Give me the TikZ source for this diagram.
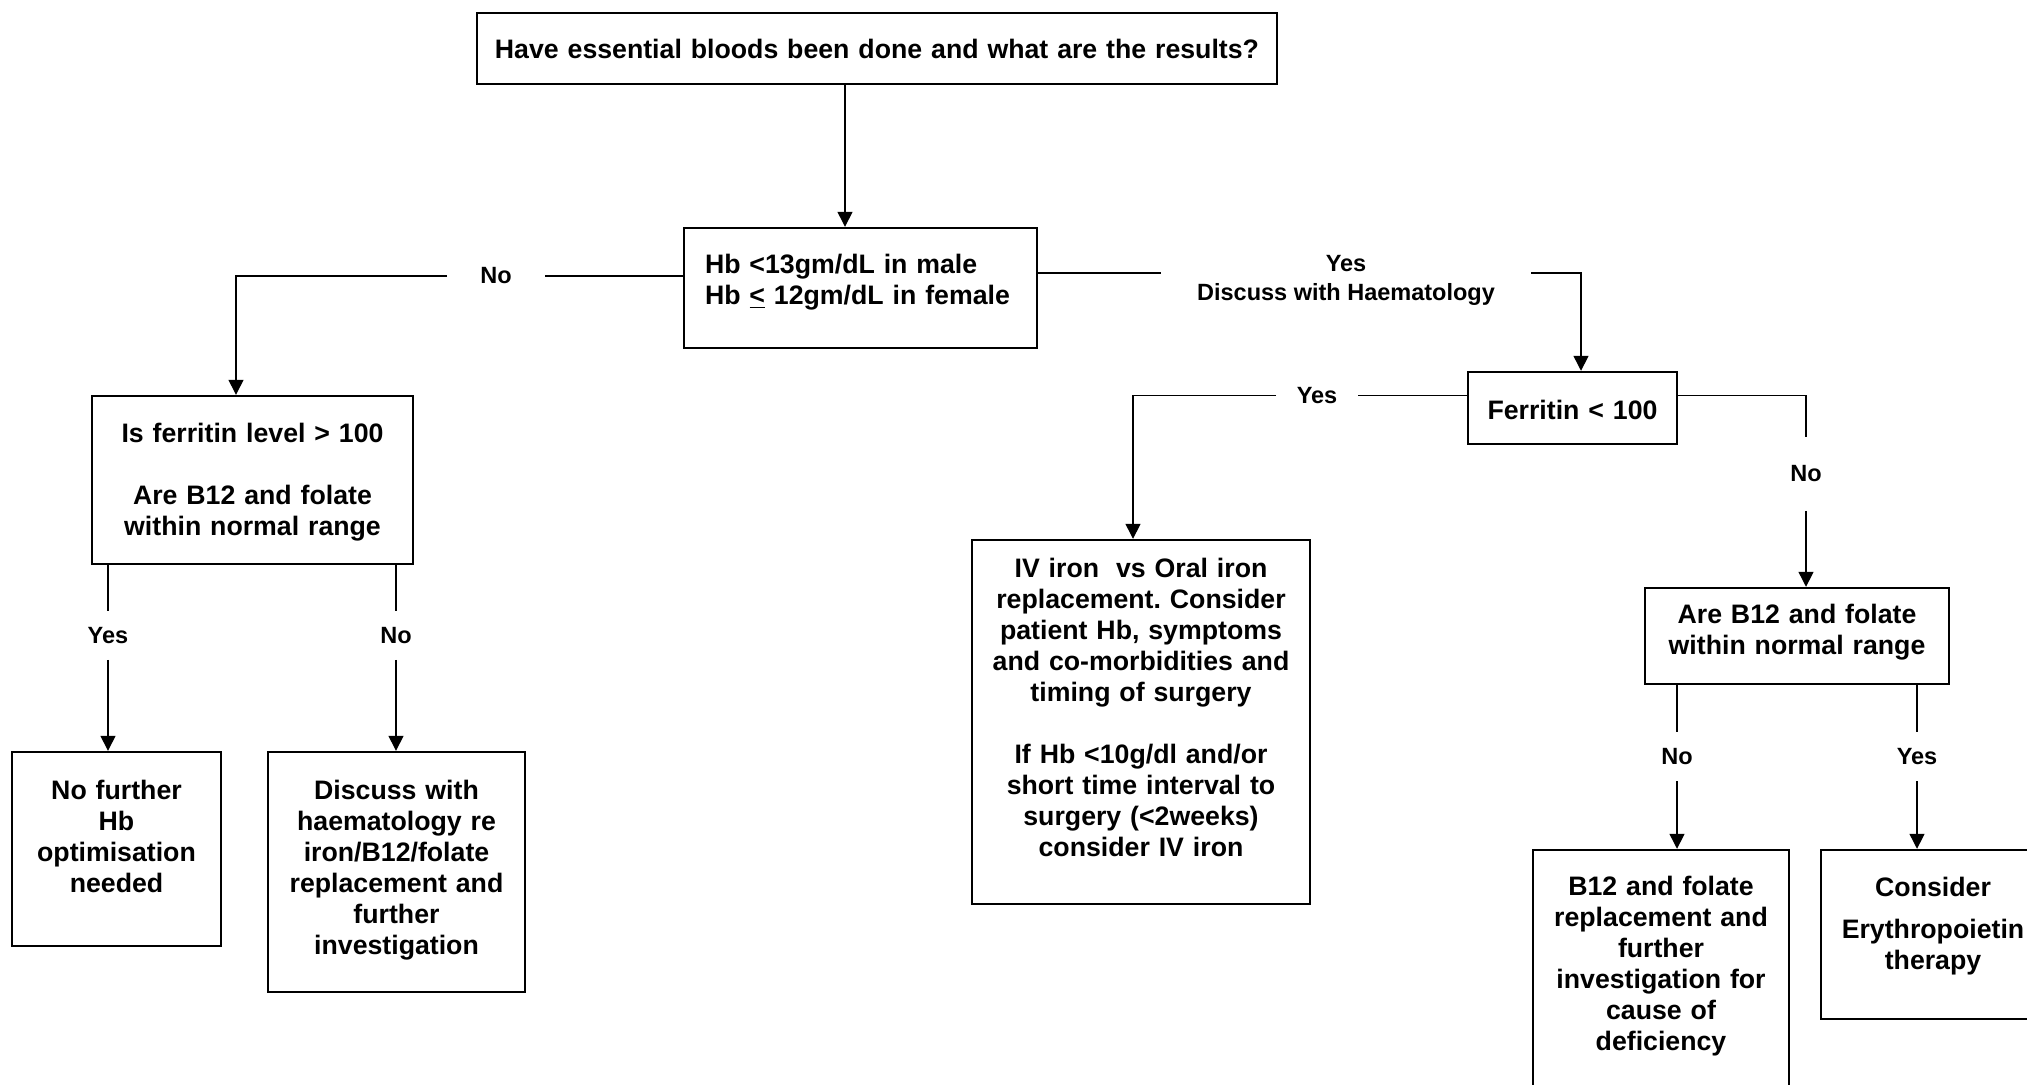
\documentclass[tikz,border=0pt]{standalone}
\usepackage{fontspec}
\setmainfont{Liberation Sans}
\usetikzlibrary{arrows.meta}
\newcommand{\boxfont}{\fontsize{13.35pt}{15.5pt}\selectfont\bfseries\frenchspacing}
\newcommand{\labfont}{\fontsize{11.75pt}{14.5pt}\selectfont\bfseries}
\tikzset{every node/.append style={transform shape=false}}
\tikzset{
  flowbox/.style n args={3}{draw, line width=1.2pt, inner sep=0pt, align=center, font=\boxfont,
    minimum width=#1, text width=#1-8pt, text height=#2, text depth=#3},
  yesno/.style={font=\labfont, inner sep=0pt, align=center},
  wire/.style={line width=.7pt},
  link/.style={wire, -{Triangle[length=7.5pt,width=7.5pt]}}
}

\begin{document}
\begin{tikzpicture}[x=0.5pt,y=-0.5pt]
  \useasboundingbox (0,0) rectangle (2027,1085);
  \clip (0,0) rectangle (2027,1085);
  \node[flowbox={400pt}{23pt}{12.5pt}] (bloods) at (877,48.5) {Have essential bloods been done and what are the results?};
  \node[flowbox={176.5pt}{23pt}{37pt}, text width=155.5pt, align=left] (hb) at (860.5,288) {Hb <13gm/dL in male\\Hb \underline{<} 12gm/dL in female};
  \node[flowbox={160.5pt}{23pt}{61pt}] (ferrq) at (252.5,480) {Is ferritin level > 100\\[15.5pt]Are B12 and folate\\within normal range};
  \node[flowbox={104.5pt}{23.5pt}{73.5pt}] (nofurther) at (116.5,849) {No further\\Hb\\optimisation\\needed};
  \node[flowbox={128.5pt}{23.5pt}{96.5pt}] (discussH) at (396.5,872) {Discuss with\\haematology re\\iron/B12/folate\\replacement and\\further\\investigation};
  \node[flowbox={104.5pt}{23.5pt}{12.5pt}] (ferr) at (1572.5,408) {Ferritin < 100};
  \node[flowbox={169pt}{18.5pt}{163.5pt}] (iv) at (1141,722) {IV iron\hspace{0.3em} vs Oral iron\\replacement. Consider\\patient Hb, symptoms\\and co-morbidities and\\timing of surgery\\[15.5pt]If Hb <10g/dl and/or\\short time interval to\\surgery (<2weeks)\\consider IV iron};
  \node[flowbox={152pt}{17.5pt}{30.5pt}] (b12q) at (1797,636) {Are B12 and folate\\within normal range};
  \node[flowbox={128pt}{22.5pt}{102.5pt}] (b12r) at (1661,975) {B12 and folate\\replacement and\\further\\investigation for\\cause of\\deficiency};
  \node[flowbox={112pt}{23pt}{61.5pt}] (consider) at (1933,934.5) {Consider\\[5.5pt]Erythropoietin\\therapy};

  \node[yesno, minimum width=48.5pt] (noL) at (496,276) {No};
  \node[yesno, minimum width=185pt] (yesR) at (1346,280) {Yes\\Discuss with Haematology};
  \node[yesno, minimum width=40.5pt] (yesF) at (1317,395.5) {Yes};
  \node[yesno, minimum height=36.5pt] (noF) at (1806,474) {No};
  \node[yesno, minimum height=24pt] (yesA) at (108,635.5) {Yes};
  \node[yesno, minimum height=24pt] (noA) at (396,635.5) {No};
  \node[yesno, minimum height=24.5pt] (noB) at (1677,756.5) {No};
  \node[yesno, minimum height=24.5pt] (yesB) at (1917,756.5) {Yes};

  \draw[link] ([xshift=-7.75pt]hb.north |- bloods.south) -- ([xshift=-7.75pt]hb.north);
  \draw[wire] (hb.west |- noL) -- (noL.east);
  \draw[link] (noL.west) -| ([xshift=-8.25pt]ferrq.north);
  \draw[wire] (hb.east |- yesR.west) ++(0,-7) -- ([yshift=3.5pt]yesR.west);
  \draw[link] ([yshift=3.5pt]yesR.east) -| ([xshift=4.25pt]ferr.north);
  \draw[wire] (ferr.west |- yesF) -- (yesF.east);
  \draw[link] (yesF.west) -| ([xshift=-4pt]iv.north);
  \draw[wire] (ferr.east |- yesF) -| (noF.north);
  \draw[link] (noF.south) -- (noF.south |- b12q.north);
  \draw[wire] (yesA.north |- ferrq.south) -- (yesA.north);
  \draw[link] (yesA.south) -- (yesA.south |- nofurther.north);
  \draw[wire] (noA.north |- ferrq.south) -- (noA.north);
  \draw[link] (noA.south) -- (noA.south |- discussH.north);
  \draw[wire] (noB.north |- b12q.south) -- (noB.north);
  \draw[link] (noB.south) -- (noB.south |- b12r.north);
  \draw[wire] (yesB.north |- b12q.south) -- (yesB.north);
  \draw[link] (yesB.south) -- (yesB.south |- consider.north);
\end{tikzpicture}
\end{document}
